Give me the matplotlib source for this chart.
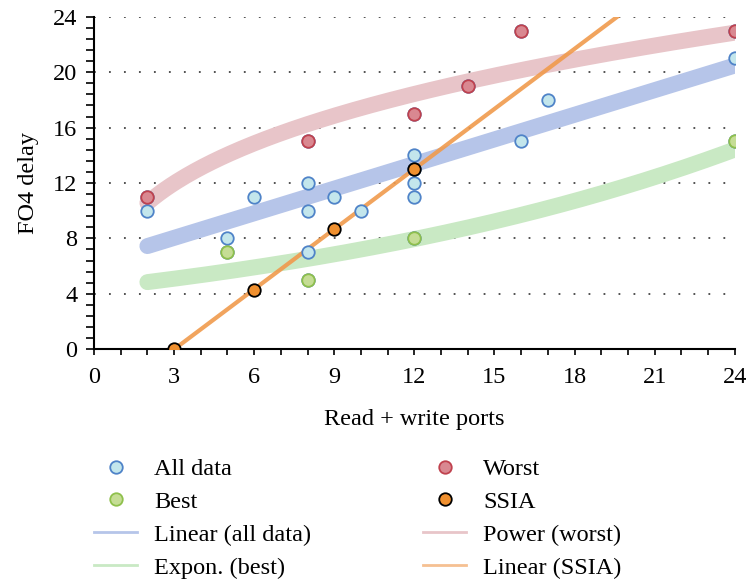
import numpy as np
import matplotlib
matplotlib.use("Agg")
import matplotlib.pyplot as plt
import matplotlib.ticker as mticker
from matplotlib.lines import Line2D

# ── Data ─────────────────────────────────────────────────────────────────────
# points that are only in "all data" (worst and best are part of all data too)
other_x = [2, 5, 6, 8, 8, 8, 9, 10, 12, 12, 12, 12, 16, 17, 24]
other_y = [10, 8, 11, 12, 10, 7, 11, 10, 14, 13, 12, 11, 15, 18, 21]

worst_x = [2, 8, 12, 14, 16, 24]
worst_y = [11, 15, 17, 19, 23, 23]

best_x = [5, 8, 12, 24]
best_y = [7, 5, 8, 15]

ssia_x = [3, 6, 9, 12]
ssia_y = [0, 4.3, 8.7, 13]

all_x = np.array(other_x + worst_x + best_x, dtype=float)
all_y = np.array(other_y + worst_y + best_y, dtype=float)

FIT_RANGE = (2, 24)

# ── Colours ──────────────────────────────────────────────────────────────────
C = {
    "all_fill":   "#c3e6ec",
    "all_edge":   "#4f83c8",
    "worst_fill": "#d98891",
    "worst_edge": "#c0424e",
    "best_fill":  "#c5dd95",
    "best_edge":  "#8fc04c",
    "ssia_fill":  "#f0902f",
    "lin_all":    "#b6c5e9",
    "pow_worst":  "#e8c5c9",
    "exp_best":   "#c9e9c4",
    "lin_ssia":   "#f09a4c",
}

FS = 17.5
plt.rcParams.update({
    "font.family": ["Liberation Serif", "DejaVu Serif"],
    "font.size": FS,
})

fig = plt.figure(figsize=(7.52, 5.81), dpi=100)
ax = fig.add_axes([0.125, 0.399, 0.852, 0.572])

# ── Fits ─────────────────────────────────────────────────────────────────────
xs = np.linspace(*FIT_RANGE, 200)
band = dict(lw=11.5, solid_capstyle="round", zorder=2)

m, b = np.polyfit(all_x, all_y, 1)
ax.plot(xs, m * xs + b, color=C["lin_all"], **band)

pb, pa = np.polyfit(np.log(worst_x), np.log(worst_y), 1)
ax.plot(xs, np.exp(pa) * xs ** pb, color=C["pow_worst"], **band)

eb, ea = np.polyfit(best_x, np.log(best_y), 1)
ax.plot(xs, np.exp(ea) * np.exp(eb * xs), color=C["exp_best"], **band)

sm, sb = np.polyfit(ssia_x, ssia_y, 1)
xs_s = np.linspace(ssia_x[0], (24 - sb) / sm, 50)
ax.plot(xs_s, sm * xs_s + sb, color=C["lin_ssia"], lw=3, alpha=0.9, zorder=3)

# ── Points ───────────────────────────────────────────────────────────────────
ms = 9
mk = dict(ls="none", marker="o", ms=ms, mew=1.3)
ax.plot(all_x, all_y, mfc=C["all_fill"], mec=C["all_edge"], zorder=4, **mk)
ax.plot(worst_x, worst_y, mfc=C["worst_fill"], mec=C["worst_edge"], zorder=5, **mk)
ax.plot(best_x, best_y, mfc=C["best_fill"], mec=C["best_edge"], zorder=5, **mk)
ax.plot(ssia_x, ssia_y, mfc=C["ssia_fill"], mec="black", zorder=6, **mk)

# ── Axes styling ─────────────────────────────────────────────────────────────
ax.set_xlim(0, 24)
ax.set_ylim(0, 24)
ax.xaxis.set_major_locator(mticker.MultipleLocator(3))
ax.xaxis.set_minor_locator(mticker.MultipleLocator(1))
ax.yaxis.set_major_locator(mticker.MultipleLocator(4))
ax.yaxis.set_minor_locator(mticker.MultipleLocator(0.8))
ax.tick_params(which="both", direction="out", width=1.2, color="black")
ax.tick_params(axis="x", which="both", length=4, pad=9)
ax.tick_params(axis="y", which="both", length=6, pad=6)
for s in ("top", "right"):
    ax.spines[s].set_visible(False)
for s in ("left", "bottom"):
    ax.spines[s].set_linewidth(1.5)
ax.set_axisbelow(True)
ax.yaxis.grid(True, which="major", color="#444444", lw=1.3, ls=(0, (1, 7.3)))
ax.xaxis.grid(False)
ax.set_xlabel("Read + write ports", labelpad=15)
ax.set_ylabel("FO4 delay", labelpad=10)

# ── Legend (two columns placed separately) ───────────────────────────────────
def pt(fill, edge):
    return Line2D([], [], ls="none", marker="o", ms=ms, mew=1.3, mfc=fill, mec=edge)

def ln(color):
    return Line2D([], [], color=color, lw=2)

leg_kw = dict(frameon=False, loc="upper left", handlelength=1.77,
              handletextpad=0.7, labelspacing=0.45, borderaxespad=0,
              borderpad=0, fontsize=FS)

fig.legend([pt(C["all_fill"], C["all_edge"]), pt(C["best_fill"], C["best_edge"]),
            ln(C["lin_all"]), ln(C["exp_best"])],
           ["All data", "Best", "Linear (all data)", "Expon. (best)"],
           bbox_to_anchor=(94 / 752, 1 - 458 / 581), **leg_kw)
fig.legend([pt(C["worst_fill"], C["worst_edge"]), pt(C["ssia_fill"], "black"),
            ln(C["pow_worst"]), ln("#f5c092")],
           ["Worst", "SSIA", "Power (worst)", "Linear (SSIA)"],
           bbox_to_anchor=(423 / 752, 1 - 458 / 581), **leg_kw)

fig.savefig("out.png", dpi=100)
